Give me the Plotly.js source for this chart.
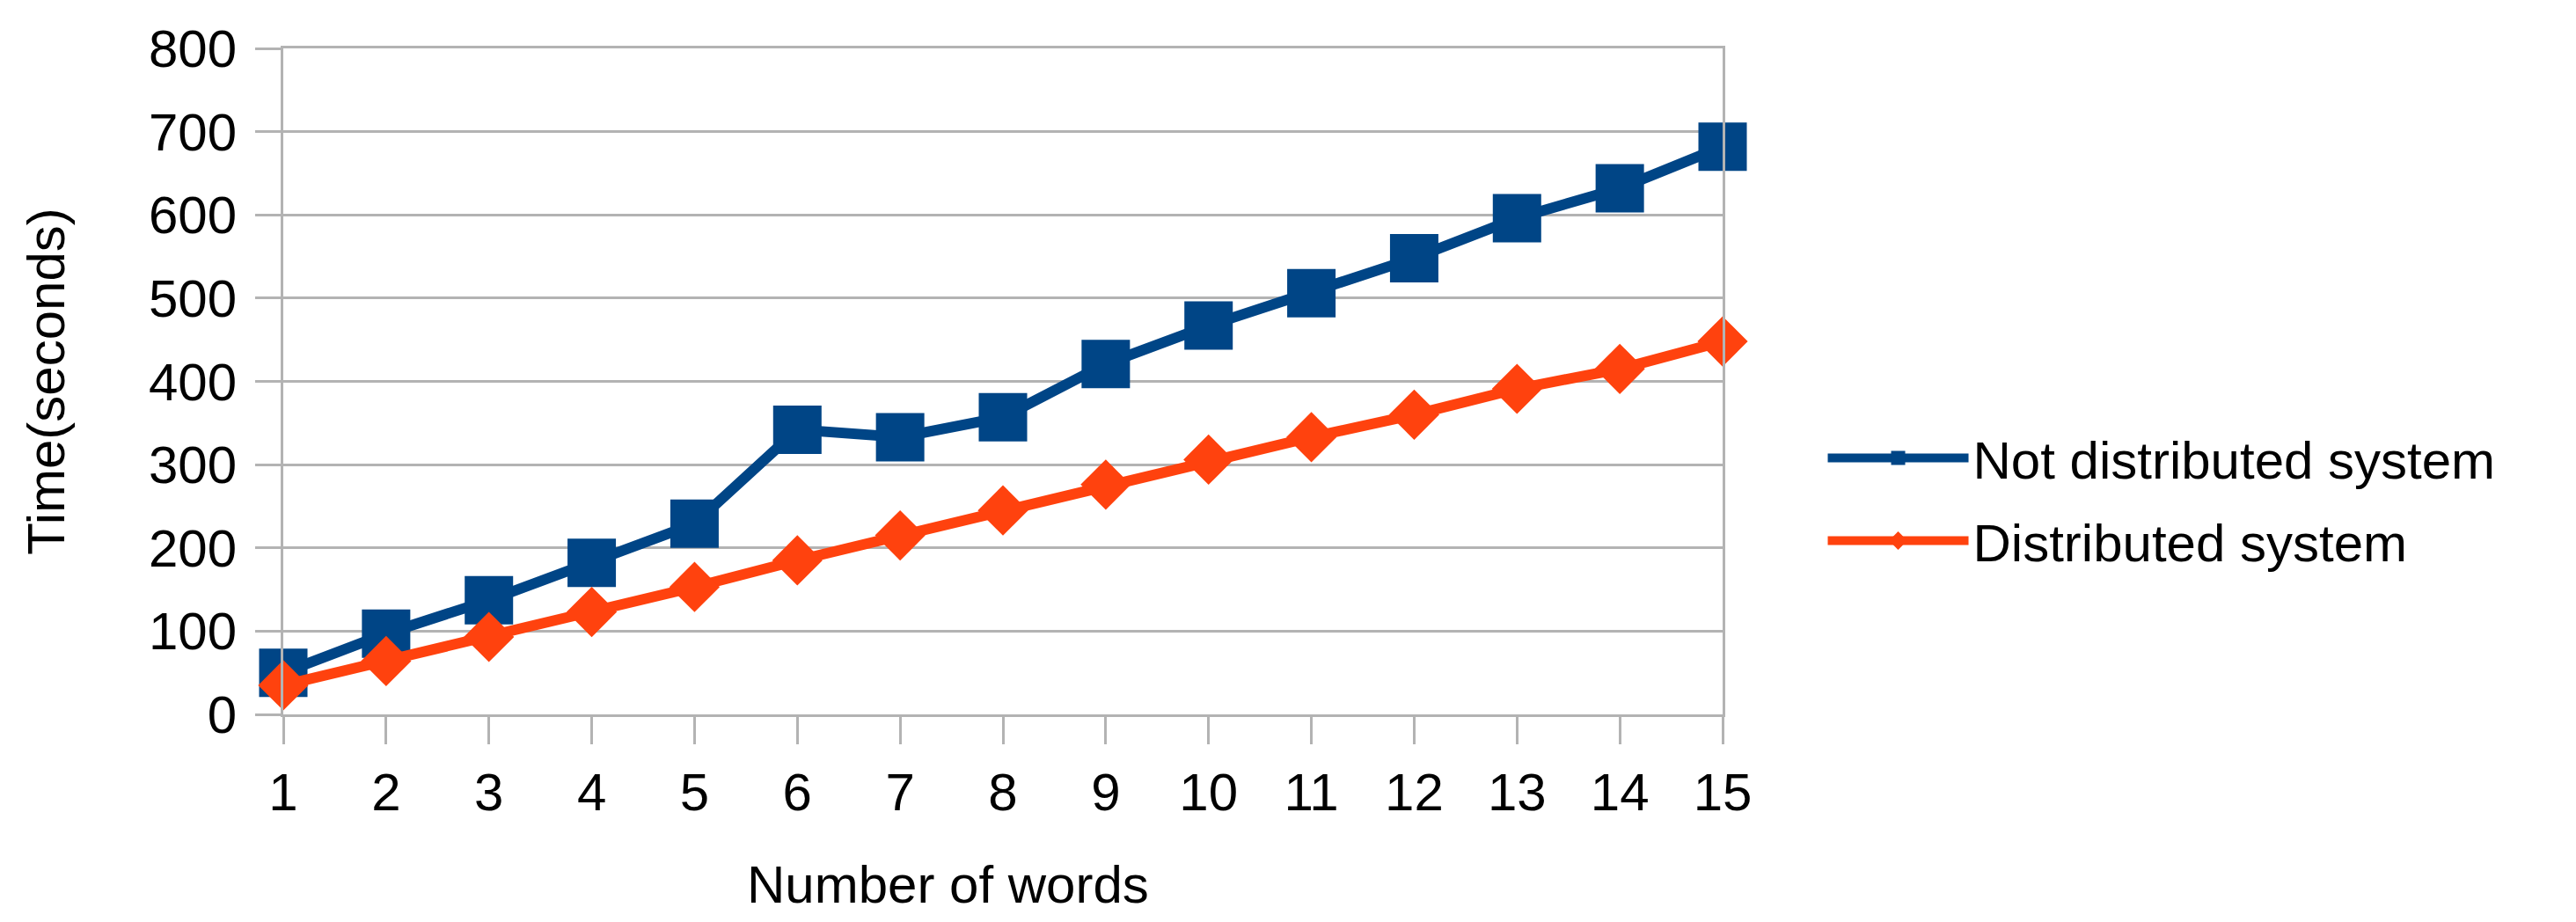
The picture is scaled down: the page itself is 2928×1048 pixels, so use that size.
<!DOCTYPE html>
<html>
<head>
<meta charset="utf-8">
<script src="https://cdn.plot.ly/plotly-3.0.1.min.js"></script>
<style>html,body{margin:0;padding:0;background:#fff;}#chart{width:2928px;height:1048px;}</style>
</head>
<body>
<div id="chart"></div>
<script>
const words = [1,2,3,4,5,6,7,8,9,10,11,12,13,14,15];
const notDistributed = [50,97,137,182,229,342,333,357,421,467,506,548,596,632,682];
const distributed = [35,64,93,123,153,185,215,245,276,306,333,360,391,415,448];
const seriesNames = ["Not distributed system", "Distributed system"];
const yTicks = [0,100,200,300,400,500,600,700,800];
const xTitle = "Number of words";
const yTitle = "Time(seconds)";

const FONT = "Liberation Sans, Arial, sans-serif";
const FS = 60;
const traces = [
  {x: words, y: notDistributed, name: seriesNames[0], type: "scatter", mode: "lines+markers",
   cliponaxis: false, legendgroup: "a",
   line: {color: "#004586", width: 12},
   marker: {symbol: "square", size: 55, color: "#004586"}},
  {x: words, y: distributed, name: seriesNames[1], type: "scatter", mode: "lines+markers",
   cliponaxis: false, legendgroup: "b",
   line: {color: "#ff420e", width: 12},
   marker: {symbol: "diamond", size: 44, color: "#ff420e"}}
];
const layout = {
  width: 2928, height: 1048,
  margin: {l: 322, r: 970, t: 55, b: 236},
  paper_bgcolor: "#fff", plot_bgcolor: "#fff",
  font: {family: FONT, size: FS, color: "#000"},
  showlegend: true,
  legend: {x: 1.07, xanchor: "left", y: 0.323, yanchor: "middle",
           font: {family: FONT, size: FS, color: "#000"},
           traceorder: "grouped", tracegroupgap: 13,
           itemwidth: 160, bgcolor: "rgba(0,0,0,0)"},
  xaxis: {range: [1, 15], tickvals: words, ticktext: words.map(String),
          showgrid: false, zeroline: false,
          showline: true, mirror: true, linecolor: "#b3b3b3", linewidth: 3,
          ticks: "outside", ticklen: 31, tickwidth: 3, tickcolor: "#b3b3b3",
          ticklabelstandoff: 3, automargin: false},
  yaxis: {range: [0, 800], tickvals: yTicks, ticktext: yTicks.map(String),
          showgrid: true, gridcolor: "#b3b3b3", gridwidth: 3, zeroline: false,
          showline: true, mirror: true, linecolor: "#b3b3b3", linewidth: 3,
          ticks: "outside", ticklen: 29, tickwidth: 3, tickcolor: "#b3b3b3",
          ticklabelstandoff: 9, automargin: false,
          title: {text: yTitle, font: {family: FONT, size: FS, color: "#000"}, standoff: 76}},
  annotations: [{text: xTitle, xref: "paper", yref: "paper", x: 0.462, y: -0.255,
                 xanchor: "center", yanchor: "middle", showarrow: false,
                 font: {family: FONT, size: FS, color: "#000"}}]
};
Plotly.newPlot("chart", traces, layout, {displayModeBar: false, staticPlot: true});
</script>
</body>
</html>
